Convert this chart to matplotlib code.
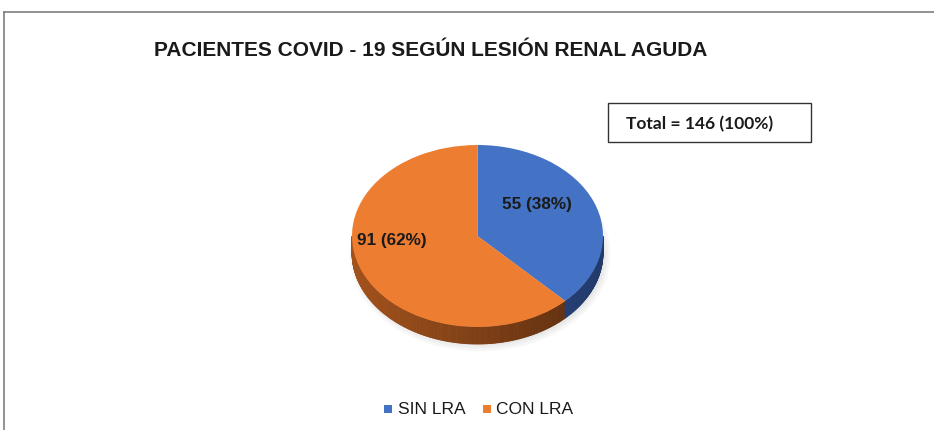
import numpy as np
import matplotlib
matplotlib.use("Agg")
import matplotlib.pyplot as plt
from matplotlib.patches import Polygon, Rectangle, Ellipse
from matplotlib.lines import Line2D
import matplotlib.colors as mcolors

# ---- data ----
categories = ["SIN LRA", "CON LRA"]
values = [55, 91]
labels = ["55 (38%)", "91 (62%)"]
title = "PACIENTES COVID - 19 SEGÚN LESIÓN RENAL AGUDA"
total_text = "Total = 146 (100%)"

top_colors = ["#4472C4", "#ED7D31"]
side_light = ["#3A5FA0", "#A3521C"]
side_dark = ["#22396A", "#5A2C0E"]

W, H = 934, 430
fig = plt.figure(figsize=(W / 100, H / 100), dpi=100)
fig.patch.set_facecolor("white")

def fx(px):
    return px / W

def fy(py):
    return 1 - py / H

# outer frame lines (top and left)
fig.add_artist(Line2D([fx(4), 1], [fy(12), fy(12)], color="#7f7f7f", lw=1.2))
fig.add_artist(Line2D([fx(4), fx(4)], [fy(12), 0], color="#7f7f7f", lw=1.2))

# title
fig.text(fx(431), fy(50), title, ha="center", va="center",
         fontsize=15, fontweight="bold", family="Liberation Sans", color="#1a1a1a")

# pie axes geometry in pixels
cx, cy, rx, ry = 477.5, 236, 125.5, 91
left_px, right_px, top_px, bot_px = 300, 655, 130, 370
ax = fig.add_axes([fx(left_px), fy(bot_px), fx(right_px - left_px), (bot_px - top_px) / H])

depth = 17 / ry
fracs = np.array(values, dtype=float) / np.sum(values)

def slice_index(angle_deg):
    cw = (90 - angle_deg) % 360
    acc = np.cumsum(fracs) * 360
    return int(np.clip(np.searchsorted(acc, cw, side="right"), 0, len(values) - 1))

# soft shadow
for k, a in enumerate([0.03, 0.03, 0.03]):
    ax.add_patch(Ellipse((0.02, -depth - 0.02), 2.0 + 0.04 * k, 2.0 + 0.06 * k,
                         facecolor="black", alpha=a, edgecolor="none"))

# side (visible front half: angles 180..360)
n = 240
angs = np.linspace(180, 360, n + 1)
for a1, a2 in zip(angs[:-1], angs[1:]):
    mid = 0.5 * (a1 + a2)
    i = slice_index(mid)
    t = (np.cos(np.radians(mid)) + 1) / 2
    c1 = np.array(mcolors.to_rgb(side_light[i]))
    c2 = np.array(mcolors.to_rgb(side_dark[i]))
    col = c1 * (1 - t) + c2 * t
    r1, r2 = np.radians(a1), np.radians(a2)
    pts = [(np.cos(r1), np.sin(r1)), (np.cos(r2), np.sin(r2)),
           (np.cos(r2), np.sin(r2) - depth), (np.cos(r1), np.sin(r1) - depth)]
    ax.add_patch(Polygon(pts, closed=True, facecolor=col, edgecolor=col, lw=0.6))

# top surface
ax.pie(values, colors=top_colors, startangle=90, counterclock=False,
       radius=1, center=(0, 0), frame=True,
       wedgeprops=dict(edgecolor="none", linewidth=0))
ax.set_aspect("auto")
ax.set_xlim((left_px - cx) / rx, (right_px - cx) / rx)
ax.set_ylim((cy - bot_px) / ry, (cy - top_px) / ry)
ax.axis("off")

# labels
label_pos_px = [(537, 205), (392, 241)]
for (px, py), lab in zip(label_pos_px, labels):
    ax.text((px - cx) / rx, (cy - py) / ry, lab, ha="center", va="center",
            fontsize=12.3, fontweight="bold", family="Liberation Sans", color="#1a1a1a")

# total box
fig.add_artist(Rectangle((fx(608), fy(142)), fx(811 - 608), (142 - 103) / H,
                         facecolor="white", edgecolor="#333333", lw=1.0))
fig.text(fx(700), fy(124), total_text, ha="center", va="center",
         fontsize=12.5, fontweight="bold", family="Lato", color="#1a1a1a")

# legend
leg_items = [(388, 398, categories[0], top_colors[0]), (487, 496, categories[1], top_colors[1])]
for sq_x, tx, lab, col in leg_items:
    fig.add_artist(Rectangle((fx(sq_x - 4), fy(413)), fx(8), 8 / H,
                             facecolor=col, edgecolor="none"))
    fig.text(fx(tx), fy(409), lab, ha="left", va="center",
             fontsize=12.5, family="Liberation Sans", color="#1a1a1a")

fig.savefig("out.png", dpi=100, facecolor="white")
